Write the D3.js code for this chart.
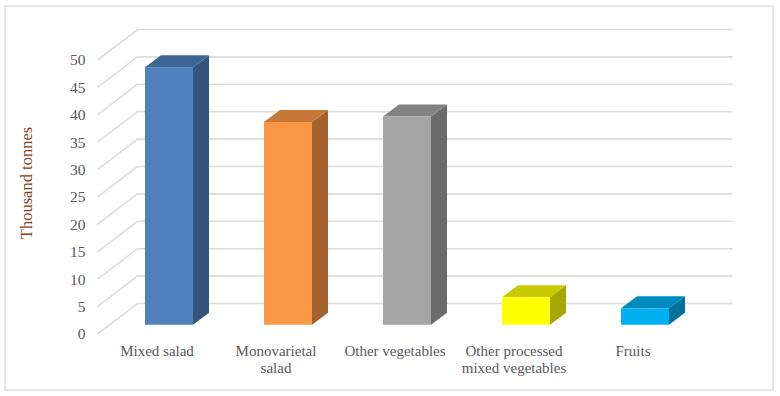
<!DOCTYPE html>
<html>
<head>
<meta charset="utf-8">
<script src="https://cdn.jsdelivr.net/npm/d3@7"></script>
<style>
  html, body { margin: 0; padding: 0; background: #fff; }
  svg { display: block; }
  text { font-family: "Liberation Serif", serif; }
</style>
</head>
<body>
<svg id="chart" width="780" height="396"></svg>
<script>
// values
var categories = ["Mixed salad", "Monovarietal\nsalad", "Other vegetables", "Other processed\nmixed vegetables", "Fruits"];
var values = [47, 37, 38, 5, 3];
var colors = ["#4f81bd", "#fb9846", "#a5a5a5", "#ffff00", "#00b0f0"];
var yTicks = [0, 5, 10, 15, 20, 25, 30, 35, 40, 45, 50];

var WIDTH = 780,
  HEIGHT = 396,
  LEFT = 97.5,      // front edge of the floor
  RIGHT = 692.5,
  BOTTOM = 334,
  TOP = 60,
  DEPTH_X = 40,     // how far the back wall is pushed
  DEPTH_Y = -30.5,
  BAR_W = 48,
  BAR_DX = 16,      // depth of one bar
  BAR_DY = -12;

var svg = d3.select("#chart");

// outer frame
svg.append("rect")
  .attr("x", 5)
  .attr("y", 6)
  .attr("width", 768)
  .attr("height", 384)
  .attr("fill", "#fff")
  .attr("stroke", "#e3e3e3")
  .attr("stroke-width", 1.6);

var xScale = d3.scaleBand().domain(d3.range(categories.length)).range([LEFT, RIGHT]);
var yScale = d3.scaleLinear().domain([0, 50]).range([BOTTOM, TOP]);

// gridlines: diagonal on the side wall, then straight along the back
svg.append("g").selectAll("path")
  .data(yTicks)
  .enter().append("path")
  .attr("fill", "none")
  .attr("stroke", "#dcdcdc")
  .attr("stroke-width", 1.6)
  .attr("d", function(d) {
    var y = yScale(d);
    return "M" + LEFT + "," + y + "L" + (LEFT + DEPTH_X) + "," + (y + DEPTH_Y) +
      "L" + (RIGHT + DEPTH_X) + "," + (y + DEPTH_Y);
  });

// y axis, labels only
var yAxis = d3.axisLeft(yScale).tickValues(yTicks).tickSize(0).tickPadding(12);
var yG = svg.append("g")
  .attr("transform", "translate(" + LEFT + ",0)")
  .call(yAxis);
yG.select(".domain").remove();
yG.selectAll("text")
  .attr("fill", "#595959")
  .style("font-size", "15.5px")
  .style("font-family", "'Liberation Serif', serif");

// x axis, labels only, some on two lines
var xAxis = d3.axisBottom(xScale).tickSize(0).tickFormat("");
var xG = svg.append("g")
  .attr("transform", "translate(0," + BOTTOM + ")")
  .call(xAxis);
xG.select(".domain").remove();
xG.selectAll(".tick text").each(function(d) {
  var t = d3.select(this)
    .attr("y", 22)
    .attr("dy", null)
    .attr("fill", "#595959")
    .style("font-size", "15px")
    .style("font-family", "'Liberation Serif', serif");
  categories[d].split("\n").forEach(function(line, i) {
    t.append("tspan")
      .attr("x", 0)
      .attr("y", 22 + i * 17)
      .text(line);
  });
});

// bars: front, top and side faces
function shade(c, k) {
  var r = d3.rgb(c);
  return d3.rgb(r.r * k, r.g * k, r.b * k).formatHex();
}

var offX = (DEPTH_X - BAR_DX) / 2 + (xScale.bandwidth() - BAR_W) / 2,
  offY = (DEPTH_Y - BAR_DY) / 2,
  unit = yScale(0) - yScale(1);

var bars = svg.append("g").selectAll("g")
  .data(values)
  .enter().append("g")
  .attr("transform", function(d, i) {
    return "translate(" + (xScale(i) + offX) + "," + (BOTTOM + offY) + ")";
  });

bars.append("path")
  .attr("fill", function(d, i) { return shade(colors[i], 0.65); })
  .attr("d", function(d) {
    var h = d * unit;
    return "M" + BAR_W + ",0L" + (BAR_W + BAR_DX) + "," + BAR_DY +
      "L" + (BAR_W + BAR_DX) + "," + (BAR_DY - h) + "L" + BAR_W + "," + (-h) + "Z";
  });

bars.append("path")
  .attr("fill", function(d, i) { return shade(colors[i], 0.79); })
  .attr("d", function(d) {
    var h = d * unit;
    return "M0," + (-h) + "L" + BAR_DX + "," + (BAR_DY - h) +
      "L" + (BAR_W + BAR_DX) + "," + (BAR_DY - h) + "L" + BAR_W + "," + (-h) + "Z";
  });

bars.append("rect")
  .attr("x", 0)
  .attr("y", function(d) { return -d * unit; })
  .attr("width", BAR_W)
  .attr("height", function(d) { return d * unit; })
  .attr("fill", function(d, i) { return colors[i]; });

// y title
svg.append("text")
  .attr("transform", "translate(32,183) rotate(-90)")
  .attr("text-anchor", "middle")
  .attr("fill", "#7f3f25")
  .style("font-size", "16.5px")
  .text("Thousand tonnes");
</script>
</body>
</html>
